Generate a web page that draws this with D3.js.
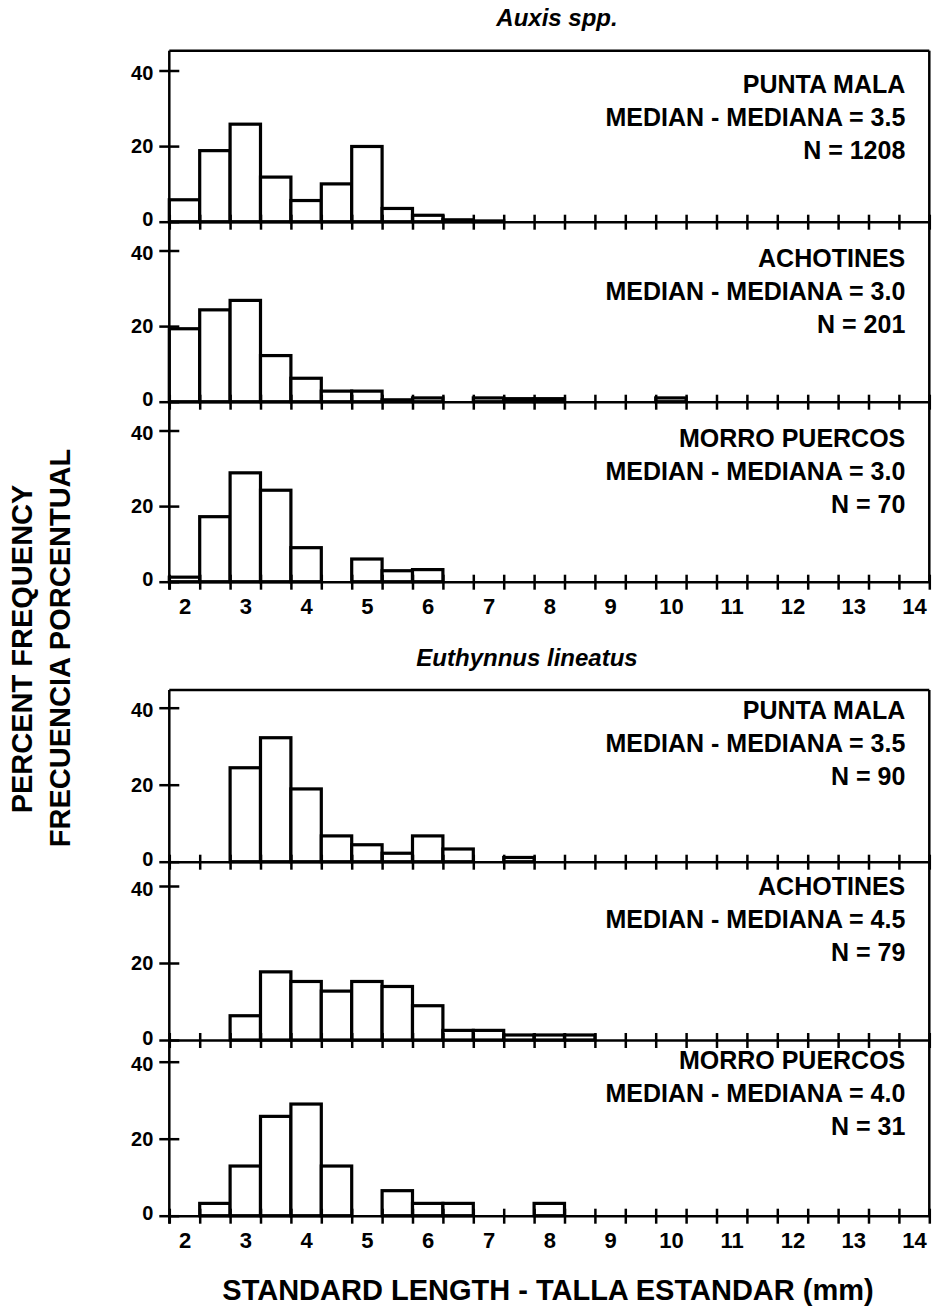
<!DOCTYPE html>
<html>
<head>
<meta charset="utf-8">
<script src="https://cdn.jsdelivr.net/npm/d3@7"></script>
<style>
  body { margin: 0; background: #fff; }
  svg text { font-family: "Liberation Sans", Arial, sans-serif; fill: #000; }
</style>
</head>
<body>
<svg id="chart" width="934" height="1307"></svg>
<script>
// length classes (mm), centre of each 0.5 mm bin
const bins = [2, 2.5, 3, 3.5, 4, 4.5, 5, 5.5, 6, 6.5, 7, 7.5, 8, 8.5, 9, 9.5, 10, 10.5, 11, 11.5, 12, 12.5, 13, 13.5, 14];
const xLabels = [2, 3, 4, 5, 6, 7, 8, 9, 10, 11, 12, 13, 14];
const yTicks = [0, 20, 40];

const species = ['Auxis spp.', 'Euthynnus lineatus'];
const sites = ['PUNTA MALA', 'ACHOTINES', 'MORRO PUERCOS'];
const medians = [['3.5', '3.0', '3.0'], ['3.5', '4.5', '4.0']];
const counts = [[1208, 201, 70], [90, 79, 31]];

// percent frequency per bin
const auxisPuntaMala    = [5.8, 18.8, 25.8, 11.8, 5.6, 10.0, 19.9, 3.5, 1.7, 0.5, 0.2, 0, 0, 0, 0, 0, 0, 0, 0, 0, 0, 0, 0, 0, 0];
const auxisAchotines    = [19.3, 24.3, 26.8, 12.2, 6.2, 2.8, 2.8, 0.5, 1.0, 0, 1.0, 0.8, 0.8, 0, 0, 0, 1.0, 0, 0, 0, 0, 0, 0, 0, 0];
const auxisMorro        = [1.2, 17.2, 28.8, 24.2, 9.0, 0, 6.0, 2.9, 3.2, 0, 0, 0, 0, 0, 0, 0, 0, 0, 0, 0, 0, 0, 0, 0, 0];
const euthPuntaMala     = [0, 0, 24.4, 32.2, 18.9, 6.7, 4.4, 2.2, 6.7, 3.3, 0, 1.1, 0, 0, 0, 0, 0, 0, 0, 0, 0, 0, 0, 0, 0];
const euthAchotines     = [0, 0, 6.3, 17.7, 15.2, 12.7, 15.2, 13.9, 8.9, 2.5, 2.5, 1.3, 1.3, 1.3, 0, 0, 0, 0, 0, 0, 0, 0, 0, 0, 0];
const euthMorro         = [0, 3.2, 12.9, 25.8, 29.0, 12.9, 0, 6.5, 3.2, 3.2, 0, 0, 3.2, 0, 0, 0, 0, 0, 0, 0, 0, 0, 0, 0, 0];

const series = [[auxisPuntaMala, auxisAchotines, auxisMorro], [euthPuntaMala, euthAchotines, euthMorro]];

const svg = d3.select('#chart');

const margin = { left: 169.3 };
const width = 760;

const layout = [
    { top: 50.7, heights: [171, 180, 180], unit: 3.78, titleX: 557, titleY: 26, text: [42, 45, 45] },
    { top: 690, heights: [171.7, 178.3, 175.7], unit: 3.85, titleX: 527, titleY: 666, text: [29, 33, 29] }
];

const xScale = d3.scaleLinear()
    .domain([bins[0] - 0.25, bins[bins.length - 1] + 0.25])
    .range([0, width]);

const edges = bins.map((b) => b - 0.25).concat([bins[bins.length - 1] + 0.25]);

layout.forEach((g, gi) => {
    /*species title*/
    svg.append('text')
        .attr('x', g.titleX)
        .attr('y', g.titleY)
        .attr('text-anchor', 'middle')
        .attr('font-size', 24)
        .attr('font-style', 'italic')
        .attr('font-weight', 'bold')
        .text(species[gi]);

    let y0 = g.top;
    g.heights.forEach((h, pi) => {
        const chart = svg.append('g')
            .attr('transform', `translate(${margin.left}, ${y0})`);

        const yScale = d3.scaleLinear()
            .domain([0, 40])
            .range([h, h - 40 * g.unit]);

        const dados = bins.map((b, i) => ({ name: b, value: series[gi][pi][i] }))
            .filter((d) => d.value > 0);

        /*bars*/
        chart.selectAll('rect.bar')
            .data(dados)
            .enter()
            .append('rect')
            .attr('class', 'bar')
            .attr('x', (d) => xScale(d.name - 0.25))
            .attr('width', (d) => xScale(d.name + 0.25) - xScale(d.name - 0.25))
            .attr('y', (d) => yScale(d.value))
            .attr('height', (d) => h - yScale(d.value))
            .attr('fill', '#fff')
            .attr('stroke', '#000')
            .attr('stroke-width', 3.2);

        /*frame: top on first panel, right side always*/
        if (pi === 0) {
            chart.append('line')
                .attr('x1', 0).attr('x2', width)
                .attr('y1', 0).attr('y2', 0)
                .attr('stroke', '#000').attr('stroke-width', 2.5);
        }
        chart.append('line')
            .attr('x1', width).attr('x2', width)
            .attr('y1', 0).attr('y2', h)
            .attr('stroke', '#000').attr('stroke-width', 2.5);

        /*left axis line*/
        chart.append('line')
            .attr('x1', 0).attr('x2', 0)
            .attr('y1', 0).attr('y2', pi === 2 ? h + 8 : h)
            .attr('stroke', '#000').attr('stroke-width', 2.5);

        /*x axis: ticks at bin edges crossing the baseline*/
        const xAxis = chart.append('g')
            .attr('transform', `translate(0, ${h})`)
            .call(d3.axisBottom(xScale)
                .tickValues(edges)
                .tickSize(8)
                .tickSizeOuter(0)
                .tickFormat(''));
        xAxis.select('.domain').attr('stroke-width', 2.5);
        xAxis.selectAll('.tick line')
            .attr('y1', -7)
            .attr('stroke-width', 2.5);

        /*y axis*/
        const yAxis = chart.append('g')
            .call(d3.axisLeft(yScale)
                .tickValues(yTicks)
                .tickSize(10)
                .tickPadding(6));
        yAxis.select('.domain').remove();
        yAxis.selectAll('.tick line')
            .attr('x1', 10)
            .attr('stroke-width', 2.5);
        yAxis.selectAll('.tick text')
            .attr('font-family', '"Liberation Sans", Arial, sans-serif')
            .attr('font-size', 20)
            .attr('font-weight', 'bold')
            .attr('dy', (d) => d === 0 ? '0.2em' : (d === 40 ? '0.45em' : '0.32em'));

        /*site, median and N*/
        const lines = [sites[pi], `MEDIAN - MEDIANA = ${medians[gi][pi]}`, `N = ${counts[gi][pi]}`];
        chart.append('g')
            .selectAll('text')
            .data(lines)
            .enter()
            .append('text')
            .attr('x', 736)
            .attr('y', (d, i) => g.text[pi] + i * 33)
            .attr('text-anchor', 'end')
            .attr('font-size', 25)
            .attr('font-weight', 'bold')
            .text((d) => d);

        /*length labels under the last panel*/
        if (pi === 2) {
            const lab = chart.append('g')
                .attr('transform', `translate(0, ${h})`)
                .call(d3.axisBottom(xScale)
                    .tickValues(xLabels)
                    .tickSize(0)
                    .tickPadding(17)
                    .tickFormat(d3.format('d')));
            lab.select('.domain').remove();
            lab.selectAll('.tick text')
                .attr('font-family', '"Liberation Sans", Arial, sans-serif')
                .attr('font-size', 22)
                .attr('font-weight', 'bold');
        }

        y0 += h;
    });
});

/*axis titles*/
svg.append('text')
    .attr('transform', 'translate(32, 649) rotate(-90)')
    .attr('text-anchor', 'middle')
    .attr('font-size', 29)
    .attr('font-weight', 'bold')
    .text('PERCENT FREQUENCY');

svg.append('text')
    .attr('transform', 'translate(70, 648) rotate(-90)')
    .attr('text-anchor', 'middle')
    .attr('font-size', 29)
    .attr('font-weight', 'bold')
    .text('FRECUENCIA PORCENTUAL');

svg.append('text')
    .attr('x', 548)
    .attr('y', 1300)
    .attr('text-anchor', 'middle')
    .attr('font-size', 29)
    .attr('font-weight', 'bold')
    .text('STANDARD LENGTH - TALLA ESTANDAR (mm)');
</script>
</body>
</html>
